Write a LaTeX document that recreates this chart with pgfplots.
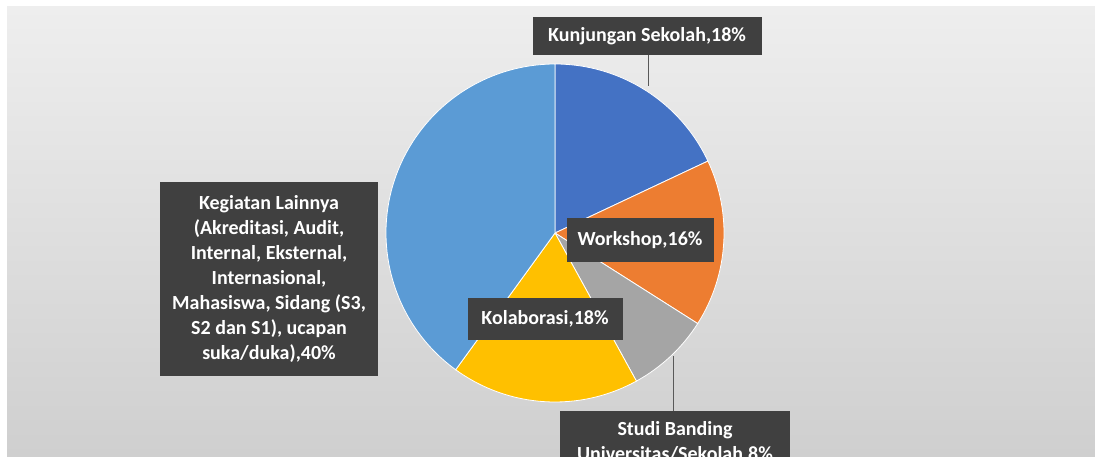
\documentclass[border=0pt]{standalone}
\usepackage{pgfplots}
\pgfplotsset{compat=1.18}
\usepackage{pgfplotstable}
\usepackage{fontspec}
\setmainfont{Carlito}
\definecolor{bgtop}{HTML}{EEEEEE}
\definecolor{bgbot}{HTML}{CFCFCF}
\definecolor{lblbox}{HTML}{404040}
\definecolor{pie0}{HTML}{4472C4}
\definecolor{pie1}{HTML}{ED7D31}
\definecolor{pie2}{HTML}{A5A5A5}
\definecolor{pie3}{HTML}{FFC000}
\definecolor{pie4}{HTML}{5B9BD5}
\tikzset{lbl/.style={fill=lblbox, text=white, font=\fontsize{10}{12.5}\selectfont\bfseries,
    inner sep=0pt, align=center}}

% share of each activity, clockwise from 12 o'clock
\pgfplotstableread{
idx pct
0 18
1 16
2 8
3 18
4 40
}\piedata

\begin{document}
\begin{tikzpicture}
\begin{axis}[
  at={(0,0)}, anchor=south west,
  x=0.5pt, y=0.5pt, scale only axis,
  xmin=0, xmax=1095, ymin=0, ymax=456,
  hide axis, clip=false,
]
  % background panel
  \fill[white] (axis cs:0,0) rectangle (axis cs:1095,456);
  \shade[top color=bgtop, bottom color=bgbot] (axis cs:7,0) rectangle (axis cs:1095,449);

  % pie slices from the table
  \def\cum{0}
  \pgfplotsforeachungrouped \i in {0,...,4}{
    \pgfplotstablegetelem{\i}{pct}\of\piedata
    \pgfmathsetmacro\aa{90-3.6*\cum}
    \pgfmathsetmacro\bb{90-3.6*(\cum+\pgfplotsretval)}
    \edef\cmd{\noexpand\fill[pie\i, draw=white, line width=0.4pt]
      (axis cs:555,223) -- ++(\aa:84.5pt)
      arc[start angle=\aa, end angle=\bb, radius=84.5pt] -- cycle;}
    \cmd
    \pgfmathsetmacro\cum{\cum+\pgfplotsretval}
  }

  % leader lines
  \draw[gray!70!black, line width=0.5pt] (axis cs:648,402) -- (axis cs:648,370);
  \draw[gray!70!black, line width=0.5pt] (axis cs:673,100) -- (axis cs:673,45);

  % data labels
  \node[lbl, minimum width=114.5pt, minimum height=19pt] at (axis cs:647,420) {Kunjungan Sekolah,18\%};
  \node[lbl, minimum width=73.5pt, minimum height=22pt] at (axis cs:640,216) {Workshop,16\%};
  \node[lbl, minimum width=77.5pt, minimum height=21pt] at (axis cs:545,137) {Kolaborasi,18\%};
  \node[lbl, minimum width=109pt, minimum height=97pt] at (axis cs:269,177)
    {Kegiatan Lainnya\\(Akreditasi, Audit,\\Internal, Eksternal,\\Internasional,\\Mahasiswa, Sidang (S3,\\S2 dan S1), ucapan\\suka/duka),40\%};
  \node[lbl, anchor=north, minimum width=115pt, inner ysep=5pt] at (axis cs:675,45)
    {Studi Banding\\Universitas/Sekolah,8\%};
\end{axis}
\pgfresetboundingbox
\path[use as bounding box] (0,0) rectangle (547.5pt,228pt);
\end{tikzpicture}
\end{document}
